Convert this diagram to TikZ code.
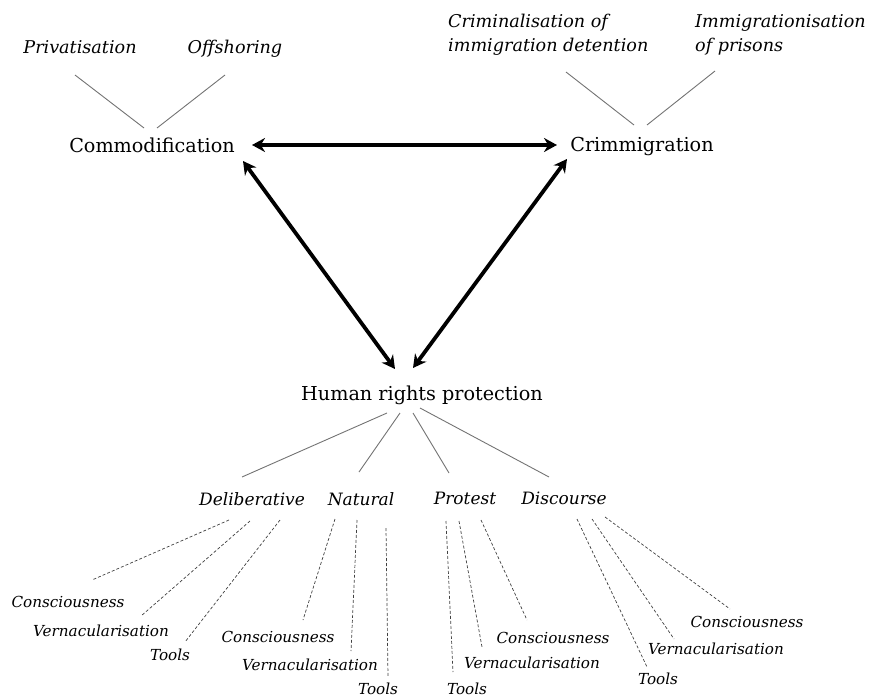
\documentclass[tikz,border=0pt]{standalone}
\usepackage{fontspec}
\setmainfont{DejaVu Serif}
\usepackage{tikz}
\usetikzlibrary{arrows.meta}

\tikzset{
  main/.style={font=\fontsize{19.2}{22}\selectfont, inner sep=2pt},
  theme/.style={font=\fontsize{17.6}{24}\selectfont\itshape, inner sep=2pt},
  branch/.style={font=\fontsize{17}{20}\selectfont\itshape, inner sep=2pt},
  leaf/.style={font=\fontsize{15.2}{17}\selectfont\itshape, inner sep=2pt},
  twig/.style={draw=black!55, line width=0.9pt},
  dash line/.style={draw=black!75, line width=0.7pt, dash pattern=on 3pt off 2pt},
  link/.style={line width=3.8pt, {Stealth[length=13pt,width=14pt]}-{Stealth[length=13pt,width=14pt]}}
}

\begin{document}
\begin{tikzpicture}[x=1pt, y=-1pt] % pixel grid, y runs down

	\useasboundingbox (0,0) rectangle (872,698);

	\node[theme] (priv) at (80,47) {Privatisation};
	\node[theme] (offsh) at (235,49) {Offshoring};
	\node[theme, anchor=west, align=left] (crimdet) at (446,35) {Criminalisation of\\immigration detention};
	\node[theme, anchor=west, align=left] (immpris) at (693,35) {Immigrationisation\\of prisons};

	\node[main] (comm) at (152,145) {Commodification};
	\node[main] (crim) at (642,147) {Crimmigration};
	\node[main] (hrp) at (422,395) {Human rights protection};

	\node[branch] (delib) at (252,499) {Deliberative};
	\node[branch] (natural) at (361,499) {Natural};
	\node[branch] (protest) at (465,498) {Protest};
	\node[branch] (discourse) at (564,498) {Discourse};

	\node[leaf] (dc) at (68,602) {Consciousness};
	\node[leaf] (dv) at (101,631) {Vernacularisation};
	\node[leaf] (dt) at (170,655) {Tools};
	\node[leaf] (nc) at (278,637) {Consciousness};
	\node[leaf] (nv) at (310,665) {Vernacularisation};
	\node[leaf] (nt) at (378,689) {Tools};
	\node[leaf] (pc) at (553,638) {Consciousness};
	\node[leaf] (pv) at (532,663) {Vernacularisation};
	\node[leaf] (pt) at (467,689) {Tools};
	\node[leaf] (xc) at (747,622) {Consciousness};
	\node[leaf] (xv) at (716,649) {Vernacularisation};
	\node[leaf] (xt) at (658,679) {Tools};

	\draw[twig] ([shift={(-5,28)}]priv.center) -- ([shift={(-8,-17)}]comm.center);
	\draw[twig] ([shift={(-10,26)}]offsh.center) -- ([shift={(5,-17)}]comm.center);
	\draw[twig] ([shift={(120,37)}]crimdet.west) -- ([shift={(-8,-22)}]crim.center);
	\draw[twig] ([shift={(22,36)}]immpris.west) -- ([shift={(5,-22)}]crim.center);

	\draw[link] ([shift={(100,0)}]comm.center) -- ([shift={(-85,-2)}]crim.center);
	\draw[link] ([shift={(91,16)}]comm.center) -- ([shift={(-27,-26)}]hrp.center);
	\draw[link] ([shift={(-75,12)}]crim.center) -- ([shift={(-9,-27)}]hrp.center);

	\draw[twig] ([shift={(-35,18)}]hrp.center) -- ([shift={(-10,-22)}]delib.center);
	\draw[twig] ([shift={(-22,18)}]hrp.center) -- ([shift={(-2,-27)}]natural.center);
	\draw[twig] ([shift={(-9,18)}]hrp.center) -- ([shift={(-16,-25)}]protest.center);
	\draw[twig] ([shift={(-2,13)}]hrp.center) -- ([shift={(-15,-21)}]discourse.center);

	\draw[dash line] ([shift={(-23,21)}]delib.center) -- ([shift={(24,-22)}]dc.center);
	\draw[dash line] ([shift={(-2,22)}]delib.center) -- ([shift={(40,-15)}]dv.center);
	\draw[dash line] ([shift={(28,21)}]delib.center) -- ([shift={(15,-13)}]dt.center);

	\draw[dash line] ([shift={(-26,20)}]natural.center) -- ([shift={(25,-17)}]nc.center);
	\draw[dash line] ([shift={(-4,21)}]natural.center) -- ([shift={(41,-14)}]nv.center);
	\draw[dash line] ([shift={(25,29)}]natural.center) -- ([shift={(10,-12)}]nt.center);

	\draw[dash line] ([shift={(-19,23)}]protest.center) -- ([shift={(-14,-17)}]pt.center);
	\draw[dash line] ([shift={(-6,23)}]protest.center) -- ([shift={(-50,-16)}]pv.center);
	\draw[dash line] ([shift={(16,22)}]protest.center) -- ([shift={(-26,-18)}]pc.center);

	\draw[dash line] ([shift={(13,21)}]discourse.center) -- ([shift={(-11,-12)}]xt.center);
	\draw[dash line] ([shift={(28,21)}]discourse.center) -- ([shift={(-42,-10)}]xv.center);
	\draw[dash line] ([shift={(41,19)}]discourse.center) -- ([shift={(-17,-13)}]xc.center);

\end{tikzpicture}
\end{document}
